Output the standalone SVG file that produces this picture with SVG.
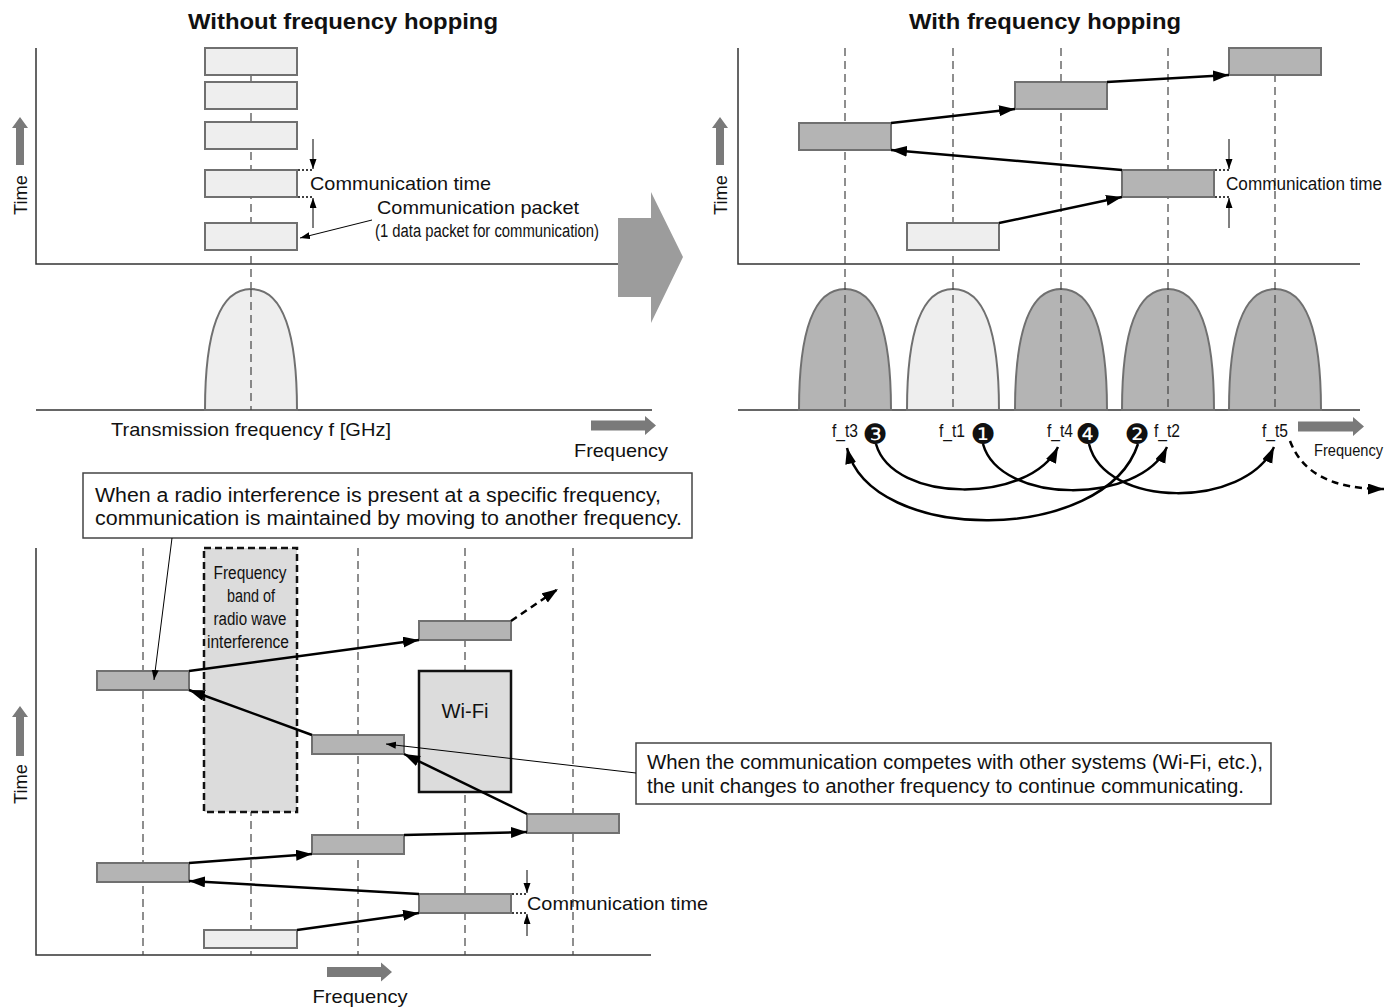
<svg xmlns="http://www.w3.org/2000/svg" width="1396" height="1008" viewBox="0 0 1396 1008">
<defs>
<style>
text{font-family:"Liberation Sans",Arial,sans-serif;fill:#111}
.t18{font-size:19px}
.t17{font-size:18px}
.t19{font-size:20px}
.t16{font-size:16px}
.tct{font-size:17.5px}
.ttl{font-size:22px;font-weight:bold;text-anchor:middle}
.mid{text-anchor:middle}
.ax{stroke:#333;stroke-width:1.5;fill:none}
.dash{stroke:#444;stroke-width:1.2;stroke-dasharray:8 5;fill:none}
.pl{fill:#eeeeee;stroke:#707070;stroke-width:2}
.pd{fill:#b4b4b4;stroke:#707070;stroke-width:2}
.gar{fill:#7a7a7a}
.con{stroke:#000;stroke-width:2.5;fill:none;marker-end:url(#ah)}
.cond{stroke:#000;stroke-width:2.5;fill:none;stroke-dasharray:7 5;marker-end:url(#ah)}
.thin{stroke:#000;stroke-width:1;fill:none;marker-end:url(#ahs)}
.dot{stroke:#000;stroke-width:1.5;stroke-dasharray:2 2;fill:none}
.box{fill:#fff;stroke:#444;stroke-width:1.5}
.num{font-family:"DejaVu Sans",sans-serif;font-size:28px;text-anchor:middle}
</style>
<marker id="ah" markerUnits="userSpaceOnUse" markerWidth="18" markerHeight="12" refX="16" refY="5.5" orient="auto">
<path d="M0,0 L16,5.5 L0,11 z" fill="#000"/>
</marker>
<marker id="ahs" markerUnits="userSpaceOnUse" markerWidth="12" markerHeight="8" refX="10" refY="3.5" orient="auto">
<path d="M0,0 L10,3.5 L0,7 z" fill="#000"/>
</marker>
</defs>
<rect width="1396" height="1008" fill="#fff"/>

<!-- ===== Top-left: without hopping ===== -->
<g id="title-left"><text class="ttl" x="343" y="29" textLength="310" lengthAdjust="spacingAndGlyphs">Without frequency hopping</text></g>
<g id="axes-left">
<path class="ax" d="M36,48 V264 H618"/>
<path class="ax" d="M36,410 H652"/>
<path class="dash" d="M251,48 V410"/>
</g>
<g id="time-axis-tl">
<polygon class="gar" points="20,117 28,128 24,128 24,165 16,165 16,128 12,128"/>
<text class="t18 mid" transform="translate(27,195) rotate(-90)" textLength="40" lengthAdjust="spacingAndGlyphs">Time</text>
</g>
<g id="bell-left"><path d="M205,410 C205,330 220,289 251,289 C282,289 297,330 297,410 Z" fill="#eeeeee" stroke="#707070" stroke-width="2"/>
<path class="dash" d="M251,289 V410"/></g>
<g id="packets-left">
<rect class="pl" x="205" y="48" width="92" height="27"/>
<rect class="pl" x="205" y="82" width="92" height="27"/>
<rect class="pl" x="205" y="122" width="92" height="27"/>
<rect class="pl" x="205" y="170" width="92" height="27"/>
<rect class="pl" x="205" y="223" width="92" height="27"/>
</g>
<g id="comm-time-left">
<path class="dot" d="M298,170 H313 M298,197 H313"/>
<path class="thin" d="M313,139 V169"/>
<path class="thin" d="M313,228 V198"/>
<text class="t18" x="310" y="190" textLength="181" lengthAdjust="spacingAndGlyphs">Communication time</text>
</g>
<g id="packet-label">
<text class="t18" x="377" y="214" textLength="202" lengthAdjust="spacingAndGlyphs">Communication packet</text>
<text class="t17" x="375" y="237" textLength="224" lengthAdjust="spacingAndGlyphs">(1 data packet for communication)</text>
</g>
<g id="freq-left">
<text class="t18" x="111" y="436" textLength="280" lengthAdjust="spacingAndGlyphs">Transmission frequency f [GHz]</text>
<polygon class="gar" points="591,420.5 645,420.5 645,416 656,425.5 645,435 645,430.5 591,430.5"/>
<text class="t18" x="574" y="457" textLength="94" lengthAdjust="spacingAndGlyphs">Frequency</text>
</g>
<g id="big-arrow"><polygon points="618,218 651,218 651,192 683,257 651,323 651,297 618,297" fill="#9c9c9c"/></g>

<!-- ===== Top-right: with hopping ===== -->
<g id="title-right"><text class="ttl" x="1045" y="29" textLength="272" lengthAdjust="spacingAndGlyphs">With frequency hopping</text></g>
<g id="axes-right">
<path class="ax" d="M738,48 V264 H1360"/>
<path class="ax" d="M738,410 H1360"/>
</g>
<g id="time-axis-tr">
<polygon class="gar" points="720,117 728,128 724,128 724,165 716,165 716,128 712,128"/>
<text class="t18 mid" transform="translate(727,195) rotate(-90)" textLength="40" lengthAdjust="spacingAndGlyphs">Time</text>
</g>
<g id="bells-right">
<path class="pd" d="M799,410 C799,330 814,289 845,289 C876,289 891,330 891,410 Z"/>
<path class="pl" d="M907,410 C907,330 922,289 953,289 C984,289 999,330 999,410 Z"/>
<path class="pd" d="M1015,410 C1015,330 1030,289 1061,289 C1092,289 1107,330 1107,410 Z"/>
<path class="pd" d="M1122,410 C1122,330 1137,289 1168,289 C1199,289 1214,330 1214,410 Z"/>
<path class="pd" d="M1229,410 C1229,330 1244,289 1275,289 C1306,289 1321,330 1321,410 Z"/>
</g>
<g id="dashes-right">
<path class="dash" d="M845,48 V410 M953,48 V410 M1061,48 V410 M1168,48 V410 M1275,48 V410"/>
</g>
<g id="packets-right">
<rect class="pl" x="907" y="223" width="92" height="27"/>
<rect class="pd" x="1122" y="170" width="92" height="27"/>
<rect class="pd" x="799" y="123" width="92" height="27"/>
<rect class="pd" x="1015" y="82" width="92" height="27"/>
<rect class="pd" x="1229" y="48" width="92" height="27"/>
</g>
<g id="comm-time-right">
<path class="dot" d="M1215,170 H1229 M1215,197 H1229"/>
<path class="thin" d="M1229,139 V169"/>
<path class="thin" d="M1229,228 V198"/>
<text class="tct" x="1226" y="190" textLength="156" lengthAdjust="spacingAndGlyphs">Communication time</text>
</g>
<g id="freq-labels-right">
<text class="t17 mid" x="845" y="437" textLength="26" lengthAdjust="spacingAndGlyphs">f_t3</text>
<text class="t17 mid" x="952" y="437" textLength="26" lengthAdjust="spacingAndGlyphs">f_t1</text>
<text class="t17 mid" x="1060" y="437" textLength="26" lengthAdjust="spacingAndGlyphs">f_t4</text>
<text class="t17 mid" x="1167" y="437" textLength="26" lengthAdjust="spacingAndGlyphs">f_t2</text>
<text class="t17 mid" x="1275" y="437" textLength="26" lengthAdjust="spacingAndGlyphs">f_t5</text>
<text class="num" x="875" y="444">❸</text>
<text class="num" x="983" y="444">❶</text>
<text class="num" x="1088" y="444">❹</text>
<text class="num" x="1137" y="444">❷</text>
<polygon class="gar" points="1298,421.5 1353,421.5 1353,417 1364,426.5 1353,436 1353,431.5 1298,431.5"/>
<text class="t16" x="1314" y="456" textLength="69" lengthAdjust="spacingAndGlyphs">Frequency</text>
</g>

<!-- ===== Bottom: interference ===== -->
<g id="callout-left">
<rect class="box" x="83" y="473" width="609" height="65"/>
<text class="t19" x="95" y="502" textLength="566" lengthAdjust="spacingAndGlyphs">When a radio interference is present at a specific frequency,</text>
<text class="t19" x="95" y="525" textLength="587" lengthAdjust="spacingAndGlyphs">communication is maintained by moving to another frequency.</text>
</g>
<g id="axes-bottom">
<path class="ax" d="M36,548 V955 H651"/>
<path class="dash" d="M143,548 V955 M251,548 V955 M358,548 V955 M465,548 V955 M573,548 V955"/>
</g>
<g id="time-axis-b">
<polygon class="gar" points="20,706 28,717 24,717 24,756 16,756 16,717 12,717"/>
<text class="t18 mid" transform="translate(27,784) rotate(-90)" textLength="40" lengthAdjust="spacingAndGlyphs">Time</text>
</g>
<g id="interference-band">
<rect x="204" y="548" width="93" height="264" fill="#dcdcdc" stroke="#111" stroke-width="2.5" stroke-dasharray="7 4"/>
<text class="t17 mid" x="250" y="579" textLength="73" lengthAdjust="spacingAndGlyphs">Frequency</text>
<text class="t17 mid" x="251" y="602" textLength="48" lengthAdjust="spacingAndGlyphs">band of</text>
<text class="t17 mid" x="250" y="625" textLength="73" lengthAdjust="spacingAndGlyphs">radio wave</text>
<text class="t17 mid" x="248" y="648" textLength="82" lengthAdjust="spacingAndGlyphs">interference</text>
</g>
<g id="wifi">
<rect x="419" y="671" width="92" height="121" fill="#dcdcdc" stroke="#111" stroke-width="2.5"/>
<text class="t19 mid" x="465" y="718" textLength="47" lengthAdjust="spacingAndGlyphs">Wi-Fi</text>
</g>
<g id="packets-bottom">
<rect class="pl" x="204" y="930" width="93" height="18"/>
<rect class="pd" x="419" y="894" width="92" height="19"/>
<rect class="pd" x="97" y="863" width="92" height="19"/>
<rect class="pd" x="312" y="835" width="92" height="19"/>
<rect class="pd" x="527" y="814" width="92" height="19"/>
<rect class="pd" x="312" y="735" width="92" height="19"/>
<rect class="pd" x="97" y="671" width="92" height="19"/>
<rect class="pd" x="419" y="621" width="92" height="19"/>
</g>
<g id="comm-time-bottom">
<path class="dot" d="M512,894 H527 M512,913 H527"/>
<path class="thin" d="M527,870 V893"/>
<path class="thin" d="M527,936 V914"/>
<text class="t18" x="527" y="910" textLength="181" lengthAdjust="spacingAndGlyphs">Communication time</text>
</g>
<g id="callout-right">
<rect class="box" x="636" y="743" width="635" height="61"/>
<text class="t19" x="647" y="769" textLength="616" lengthAdjust="spacingAndGlyphs">When the communication competes with other systems (Wi-Fi, etc.),</text>
<text class="t19" x="647" y="793" textLength="597" lengthAdjust="spacingAndGlyphs">the unit changes to another frequency to continue communicating.</text>
</g>
<g id="freq-bottom">
<polygon class="gar" points="327,967 381,967 381,962.5 392,972 381,981.5 381,977 327,977"/>
<text class="t18 mid" x="360" y="1003" textLength="95" lengthAdjust="spacingAndGlyphs">Frequency</text>
</g>

<!-- ===== Connectors ===== -->
<g id="connectors">
<path class="thin" d="M372,220 L300,238"/>
<path class="con" d="M999,223 L1122,197"/>
<path class="con" d="M1122,170 L891,150"/>
<path class="con" d="M891,123 L1015,109"/>
<path class="con" d="M1107,82 L1229,75"/>
<path class="con" d="M876,444 C893,504 1030,504 1058,447"/>
<path class="con" d="M983,444 C1000,505 1140,505 1167,447"/>
<path class="con" d="M1089,444 C1105,509 1245,509 1274,447"/>
<path class="con" d="M1138,444 C1105,545 870,545 847,448"/>
<path class="cond" d="M1290,441 C1302,472 1330,489 1384,489"/>
<path class="con" d="M297,930 L419,913"/>
<path class="con" d="M419,894 L189,881"/>
<path class="con" d="M189,863 L312,854"/>
<path class="con" d="M404,835 L527,832"/>
<path class="con" d="M527,814 L404,754"/>
<path class="con" d="M312,735 L189,690"/>
<path class="con" d="M189,671 L419,640"/>
<path class="cond" d="M511,621 L558,589"/>
<path class="thin" d="M172,538 L154,680"/>
<path class="thin" d="M636,773 L386,744"/>
</g>
</svg>
